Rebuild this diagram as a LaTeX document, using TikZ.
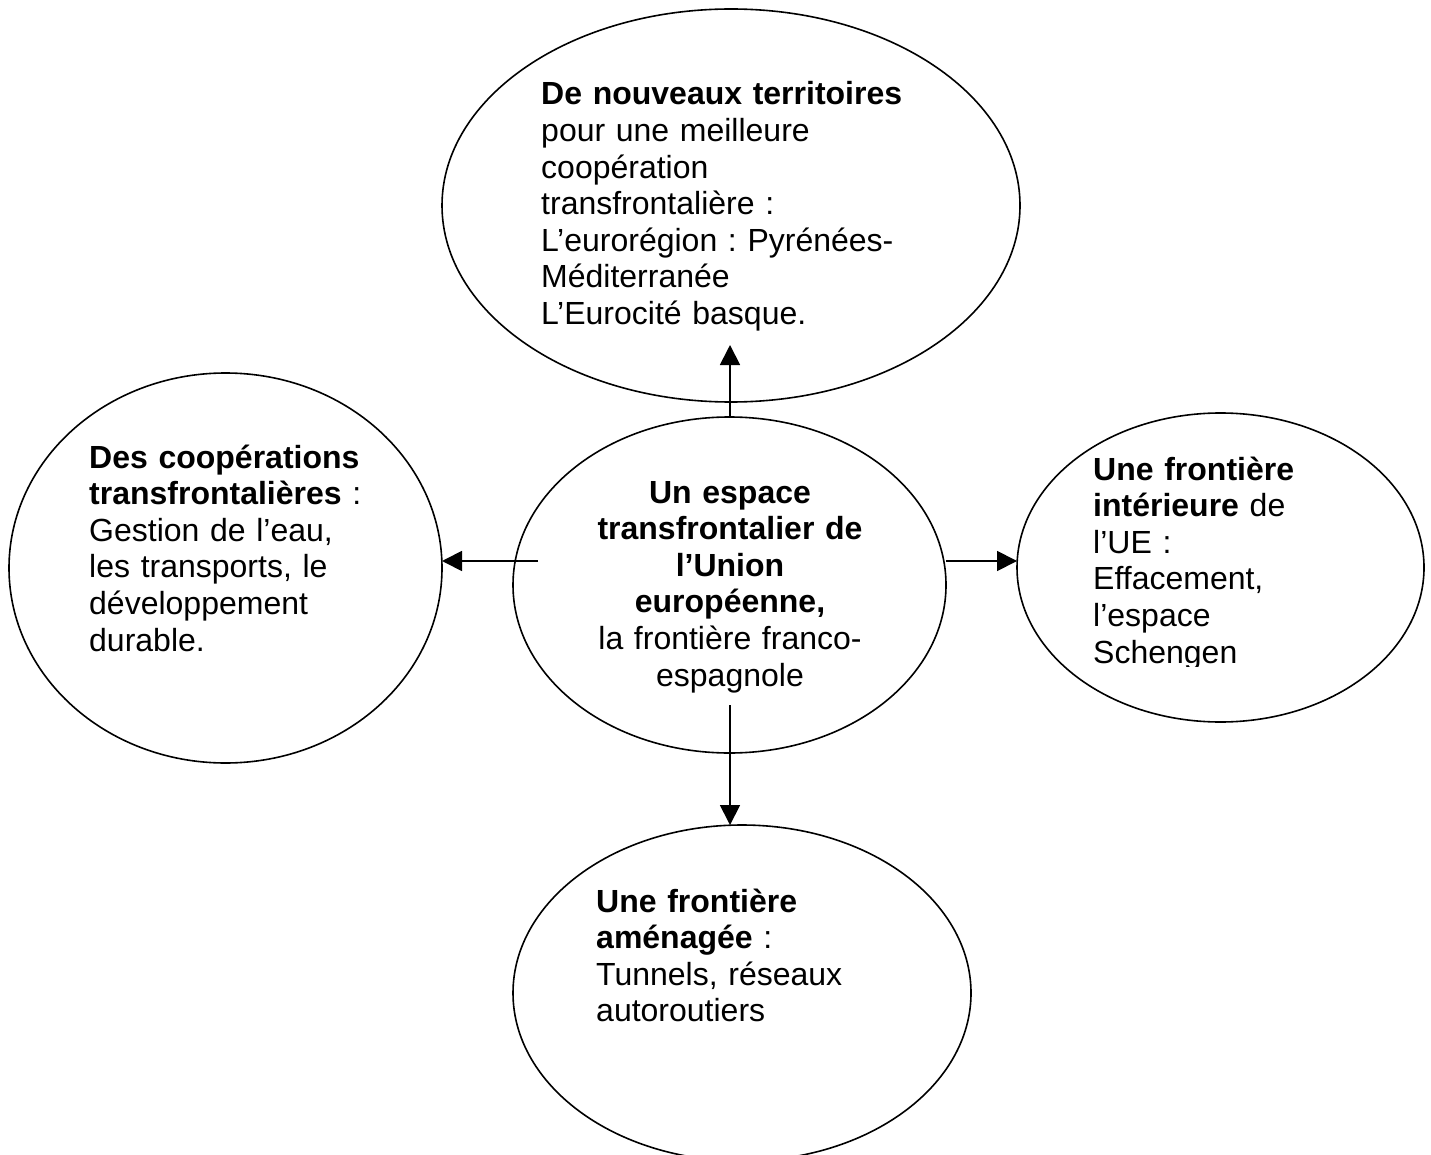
\documentclass[tikz,border=0pt]{standalone}
\usepackage{fontspec}
\setmainfont{Liberation Sans}
\usetikzlibrary{shapes.geometric,arrows.meta}
\begin{document}
\frenchspacing
\begin{tikzpicture}[x=1pt,y=-1pt,
  bubble/.style={draw=black, line width=1.6pt, ellipse, inner sep=0pt, outer sep=0pt},
  txt/.style={inner sep=0pt, text width=480pt, align=left, anchor=base west, font=\fontsize{32}{36.6}\selectfont\frenchspacing},
  ctxt/.style={txt, align=center, anchor=base},
  link/.style={line width=1.8pt, -{Triangle[length=20pt,width=20pt]}}]
\useasboundingbox (0,0) rectangle (1431,1155);
\clip (0,0) rectangle (1431,1155);
% ellipses
\node[bubble, minimum width=578pt, minimum height=393pt] (top) at (731,205.5) {};
\node[bubble, minimum width=433pt, minimum height=390pt] (left) at (225.5,568) {};
\node[bubble, minimum width=433pt, minimum height=336pt] (center) at (729.5,585) {};
\node[bubble, minimum width=407pt, minimum height=309pt] (right) at (1220.5,567.5) {};
\node[bubble, minimum width=458pt, minimum height=336pt] (bottom) at (742,993) {};
% texts
\node[txt] (ttop) at (541,105) {\textbf{De nouveaux territoires}\\ pour une meilleure\\ coopération\\ transfrontalière :\\ L’eurorégion : Pyrénées-\\ Méditerranée\\ L’Eurocité basque.};
\node[txt] (tleft) at (89,468) {\textbf{Des coopérations}\\ \textbf{transfrontalières} :\\ Gestion de l’eau,\\ les transports, le\\ développement\\ durable.};
\node[ctxt] (tcenter) at (730,503) {\textbf{Un espace}\\ \textbf{transfrontalier de}\\ \textbf{l’Union}\\ \textbf{européenne,}\\ la frontière franco-\\ espagnole};
\begin{scope}
\clip (1080,430) rectangle (1400,666);
\node[txt] (tright) at (1093,480) {\textbf{Une frontière}\\ \textbf{intérieure} de\\ l’UE :\\ Effacement,\\ l’espace\\ Schengen};
\end{scope}
\node[txt] (tbottom) at (596,912) {\textbf{Une frontière}\\ \textbf{aménagée} :\\ Tunnels, réseaux\\ autoroutiers};
% connectors
\coordinate (toptip) at (730,345);
\coordinate (lstart) at (538,561);
\coordinate (rstart) at (946,561);
\coordinate (bstart) at (730,705);
\draw[link] (toptip |- center.north) -- (toptip);
\draw[link] (lstart) -- (lstart -| left.east);
\draw[link] (rstart) -- (rstart -| right.west);
\draw[link] (bstart) -- (bstart |- bottom.north);
\end{tikzpicture}
\end{document}
